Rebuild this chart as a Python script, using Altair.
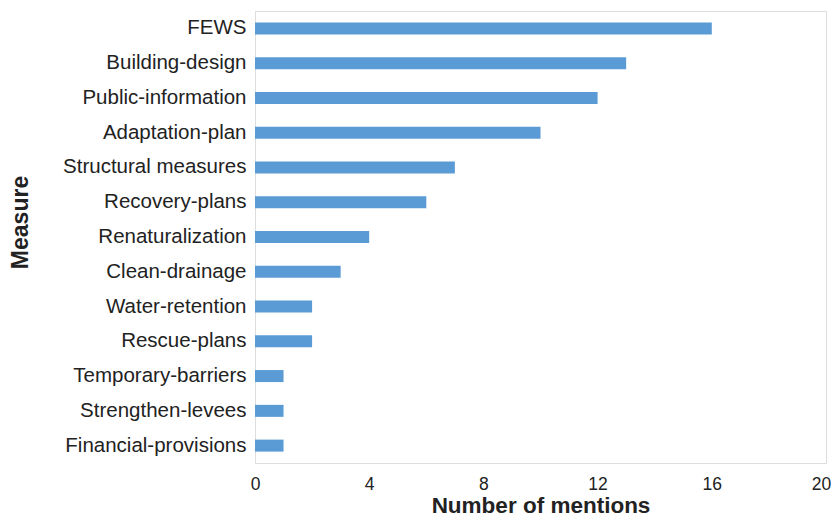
import altair as alt
import pandas as pd

measures = ["FEWS", "Building-design", "Public-information", "Adaptation-plan",
            "Structural measures", "Recovery-plans", "Renaturalization",
            "Clean-drainage", "Water-retention", "Rescue-plans",
            "Temporary-barriers", "Strengthen-levees", "Financial-provisions"]
mentions = [16, 13, 12, 10, 7, 6, 4, 3, 2, 2, 1, 1, 1]
x_ticks = [0, 4, 8, 12, 16, 20]

df = pd.DataFrame({"Measure": measures, "Mentions": mentions})

FONT = "Liberation Sans, Arial, Helvetica, sans-serif"

chart = alt.Chart(df).mark_bar(size=12, color="#5B9BD5").encode(
    x=alt.X("Mentions:Q",
            scale=alt.Scale(domain=[0, 20], nice=False),
            axis=alt.Axis(title="Number of mentions", values=x_ticks,
                          grid=False, ticks=False, domain=False,
                          labelFontSize=17.5, labelPadding=12, labelColor="#222",
                          labelFlush=False,
                          labelOffset={"condition": {"test": "datum.value == 20", "value": -5},
                                       "value": 0},
                          titleFontSize=22.5, titleFontWeight="bold", titleColor="#222",
                          titleBaseline="alphabetic", titleY=49)),
    y=alt.Y("Measure:N", sort=measures,
            axis=alt.Axis(title="Measure", grid=False, ticks=False, domain=False,
                          labelFontSize=20.5, labelPadding=9, labelColor="#222",
                          labelLimit=400,
                          titleFontSize=23, titleFontWeight="bold", titleColor="#222",
                          titleAngle=-90, titleX=-228, titleY=211,
                          titleBaseline="alphabetic", titleAlign="center")),
).properties(
    width=571, height=452,
    autosize=alt.AutoSizeParams(type="none"),
    padding={"left": 247, "top": 3, "right": 5, "bottom": 53},
).configure_view(
    stroke="#aaaaaa", strokeWidth=1
).configure(font=FONT)

chart.save("out.html", embed_options={"renderer": "svg", "actions": False})
